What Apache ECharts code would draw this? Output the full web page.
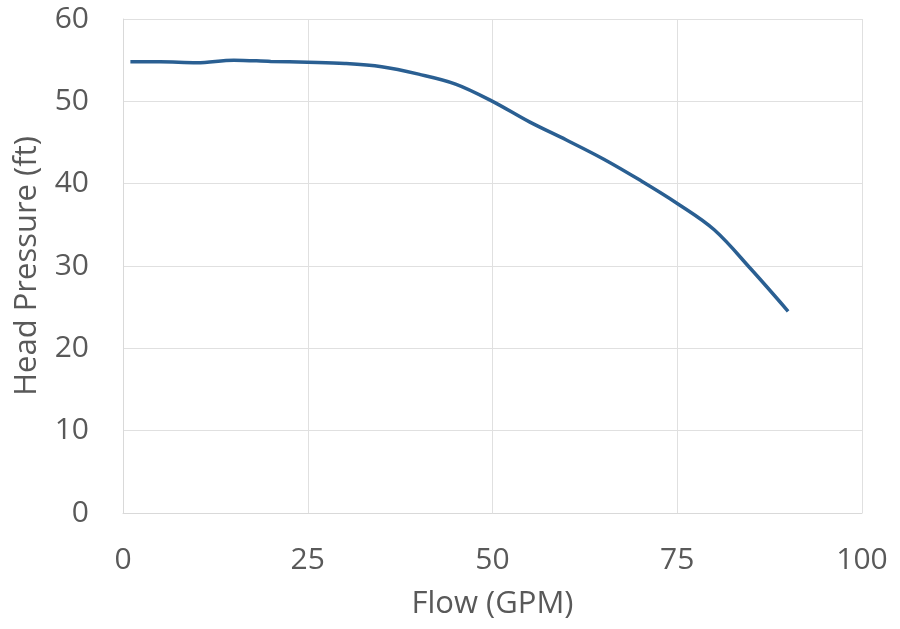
<!DOCTYPE html>
<html>
<head>
<meta charset="utf-8">
<script src="https://cdn.jsdelivr.net/npm/echarts@6/dist/echarts.min.js"></script>
<style>
  html, body { margin: 0; padding: 0; background: #fff; }
  #chart { width: 900px; height: 629px; }
</style>
</head>
<body>
<div id="chart"></div>
<script>
// 读图得到的数据
var flow = [1, 5, 10, 15, 20, 25, 30, 35, 40, 45, 50, 55, 60, 65, 70, 75, 80, 85, 90];
var head = [54.8, 54.8, 54.7, 55.0, 54.85, 54.75, 54.6, 54.2, 53.3, 52.1, 50.0, 47.5, 45.3, 43.0, 40.4, 37.6, 34.4, 29.6, 24.5];
var xTicks = [0, 25, 50, 75, 100];
var yTicks = [0, 10, 20, 30, 40, 50, 60];

var points = flow.map(function (x, i) { return [x, head[i]]; });

var myChart = echarts.init(document.getElementById('chart'));
var font = 'Open Sans';
var grey = '#595959';

myChart.setOption({
    animation: false,
    grid: { left: 123, right: 38, top: 19, bottom: 116, outerBoundsMode: 'none', containLabel: false },
    xAxis: {
        type: 'value',
        min: xTicks[0],
        max: xTicks[xTicks.length - 1],
        interval: 25,
        name: 'Flow (GPM)',
        nameLocation: 'middle',
        nameGap: 76,
        nameTextStyle: { fontFamily: font, fontSize: 31, color: grey },
        axisLine: { show: true, lineStyle: { color: '#d9d9d9', width: 1 } },
        axisTick: { show: false },
        axisLabel: { fontFamily: font, fontSize: 30, color: grey, margin: 32 },
        splitLine: { show: true, lineStyle: { color: '#e0e0e0', width: 1 } }
    },
    yAxis: {
        type: 'value',
        min: yTicks[0],
        max: yTicks[yTicks.length - 1],
        interval: 10,
        name: 'Head Pressure (ft)',
        nameLocation: 'middle',
        nameGap: 80,
        nameTextStyle: { fontFamily: font, fontSize: 31, color: grey },
        axisLine: { show: true, lineStyle: { color: '#d9d9d9', width: 1 } },
        axisTick: { show: false },
        axisLabel: { fontFamily: font, fontSize: 30, color: grey, margin: 34 },
        splitLine: { show: true, lineStyle: { color: '#e0e0e0', width: 1 } }
    },
    series: [{
        type: 'line',
        data: points,
        smooth: 0.35,
        showSymbol: false,
        lineStyle: { color: '#2a5f92', width: 3.5 }
    }]
});
</script>
</body>
</html>
